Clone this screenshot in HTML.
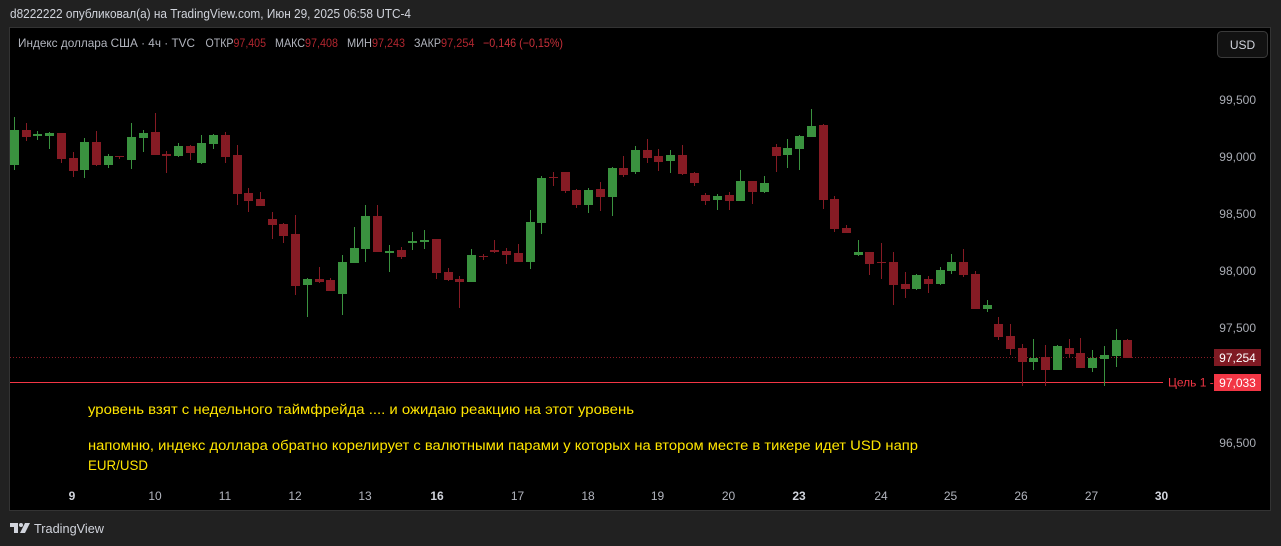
<!DOCTYPE html>
<html><head><meta charset="utf-8"><style>
html,body{margin:0;padding:0;background:#212121;}
body{width:1281px;height:546px;overflow:hidden;}
svg{display:block;font-family:"Liberation Sans","Noto Sans CJK SC",sans-serif;}
</style></head><body>
<svg width="1281" height="546" viewBox="0 0 1281 546" xmlns="http://www.w3.org/2000/svg">
<rect x="0" y="0" width="1281" height="546" fill="#212121"/>
<text x="10" y="18" font-size="12.5" fill="#d1d4dc" textLength="401" lengthAdjust="spacingAndGlyphs">d8222222 опубликовал(а) на TradingView.com, Июн 29, 2025 06:58 UTC-4</text>
<rect x="9.5" y="27.5" width="1261" height="483" fill="#000" stroke="#333" stroke-width="1"/>
<g font-size="12" fill="#b2b5be">
<text x="18" y="47" textLength="177" lengthAdjust="spacingAndGlyphs">Индекс доллара США · 4ч · TVC</text>
<text x="205.5" y="47" textLength="28" lengthAdjust="spacingAndGlyphs">ОТКР</text>
<text x="233.5" y="47" fill="#b0262f" textLength="32.5" lengthAdjust="spacingAndGlyphs">97,405</text>
<text x="275" y="47" textLength="30" lengthAdjust="spacingAndGlyphs">МАКС</text>
<text x="305" y="47" fill="#b0262f" textLength="33" lengthAdjust="spacingAndGlyphs">97,408</text>
<text x="347" y="47" textLength="25" lengthAdjust="spacingAndGlyphs">МИН</text>
<text x="372" y="47" fill="#b0262f" textLength="33" lengthAdjust="spacingAndGlyphs">97,243</text>
<text x="414" y="47" textLength="27" lengthAdjust="spacingAndGlyphs">ЗАКР</text>
<text x="441" y="47" fill="#b0262f" textLength="33.5" lengthAdjust="spacingAndGlyphs">97,254</text>
<text x="483" y="47" fill="#c9303a" textLength="80" lengthAdjust="spacingAndGlyphs">−0,146 (−0,15%)</text>
</g>
<rect x="1217.5" y="31.5" width="50" height="26" rx="4" fill="#121212" stroke="#3a3a3a"/>
<text x="1242.5" y="49" font-size="12" fill="#d1d4dc" text-anchor="middle">USD</text>
<g font-size="12" fill="#a9acb4" text-anchor="end">
<text x="1256" y="104">99,500</text>
<text x="1256" y="161">99,000</text>
<text x="1256" y="218">98,500</text>
<text x="1256" y="275">98,000</text>
<text x="1256" y="332">97,500</text>
<text x="1256" y="447">96,500</text>
</g>
<line x1="10" y1="357.5" x2="1214" y2="357.5" stroke="#8b1c26" stroke-width="1" stroke-dasharray="1,2"/>
<line x1="10" y1="382.5" x2="1163" y2="382.5" stroke="#f23645" stroke-width="1"/>
<text x="1168" y="386.5" font-size="12" fill="#f23645">Цель 1 -</text>
<rect x="1214" y="349" width="47" height="17" fill="#7f1a23"/>
<text x="1237.5" y="362" font-size="12" fill="#fff" text-anchor="middle">97,254</text>
<rect x="1214" y="374" width="47" height="17" fill="#f23645"/>
<text x="1237.5" y="387" font-size="12" fill="#fff" text-anchor="middle">97,033</text>

<g fill="#3a923f">
<rect x="14" y="117" width="1" height="53"/><rect x="10" y="130" width="9" height="35"/>
<rect x="37" y="131" width="1" height="9"/><rect x="33" y="134" width="9" height="2"/>
<rect x="49" y="132" width="1" height="17"/><rect x="45" y="133" width="9" height="3"/>
<rect x="84" y="138" width="1" height="40"/><rect x="80" y="142" width="9" height="28"/>
<rect x="108" y="154" width="1" height="14"/><rect x="104" y="156" width="9" height="9"/>
<rect x="131" y="123" width="1" height="46"/><rect x="127" y="137" width="9" height="23"/>
<rect x="143" y="130" width="1" height="22"/><rect x="139" y="133" width="9" height="5"/>
<rect x="178" y="143" width="1" height="14"/><rect x="174" y="146" width="9" height="10"/>
<rect x="201" y="135" width="1" height="29"/><rect x="197" y="143" width="9" height="20"/>
<rect x="213" y="134" width="1" height="15"/><rect x="209" y="135" width="9" height="9"/>
<rect x="307" y="278" width="1" height="39"/><rect x="303" y="279" width="9" height="6"/>
<rect x="342" y="255" width="1" height="60"/><rect x="338" y="262" width="9" height="32"/>
<rect x="354" y="227" width="1" height="36"/><rect x="350" y="248" width="9" height="15"/>
<rect x="365" y="205" width="1" height="57"/><rect x="361" y="216" width="9" height="33"/>
<rect x="389" y="245" width="1" height="27"/><rect x="385" y="251" width="9" height="2"/>
<rect x="412" y="232" width="1" height="18"/><rect x="408" y="241" width="9" height="2"/>
<rect x="424" y="230" width="1" height="19"/><rect x="420" y="240" width="9" height="2"/>
<rect x="471" y="249" width="1" height="33"/><rect x="467" y="255" width="9" height="27"/>
<rect x="530" y="210" width="1" height="59"/><rect x="526" y="222" width="9" height="40"/>
<rect x="541" y="176" width="1" height="58"/><rect x="537" y="178" width="9" height="45"/>
<rect x="588" y="188" width="1" height="25"/><rect x="584" y="190" width="9" height="15"/>
<rect x="612" y="167" width="1" height="49"/><rect x="608" y="168" width="9" height="29"/>
<rect x="635" y="146" width="1" height="28"/><rect x="631" y="150" width="9" height="22"/>
<rect x="670" y="150" width="1" height="23"/><rect x="666" y="155" width="9" height="6"/>
<rect x="717" y="194" width="1" height="16"/><rect x="713" y="196" width="9" height="4"/>
<rect x="740" y="170" width="1" height="31"/><rect x="736" y="181" width="9" height="20"/>
<rect x="764" y="176" width="1" height="17"/><rect x="760" y="183" width="9" height="9"/>
<rect x="787" y="139" width="1" height="29"/><rect x="783" y="148" width="9" height="7"/>
<rect x="799" y="135" width="1" height="35"/><rect x="795" y="136" width="9" height="13"/>
<rect x="811" y="109" width="1" height="28"/><rect x="807" y="126" width="9" height="11"/>
<rect x="858" y="240" width="1" height="16"/><rect x="854" y="252" width="9" height="3"/>
<rect x="916" y="274" width="1" height="16"/><rect x="912" y="275" width="9" height="14"/>
<rect x="940" y="267" width="1" height="18"/><rect x="936" y="270" width="9" height="14"/>
<rect x="951" y="254" width="1" height="20"/><rect x="947" y="262" width="9" height="9"/>
<rect x="987" y="300" width="1" height="12"/><rect x="983" y="305" width="9" height="4"/>
<rect x="1033" y="339" width="1" height="31"/><rect x="1029" y="358" width="9" height="4"/>
<rect x="1057" y="345" width="1" height="25"/><rect x="1053" y="346" width="9" height="24"/>
<rect x="1092" y="350" width="1" height="22"/><rect x="1088" y="358" width="9" height="10"/>
<rect x="1104" y="346" width="1" height="40"/><rect x="1100" y="355" width="9" height="4"/>
<rect x="1116" y="329" width="1" height="38"/><rect x="1112" y="340" width="9" height="16"/>
</g>
<g fill="#861b24">
<rect x="26" y="123" width="1" height="18"/><rect x="22" y="130" width="9" height="7"/>
<rect x="61" y="133" width="1" height="30"/><rect x="57" y="133" width="9" height="26"/>
<rect x="73" y="152" width="1" height="25"/><rect x="69" y="158" width="9" height="13"/>
<rect x="96" y="131" width="1" height="35"/><rect x="92" y="142" width="9" height="23"/>
<rect x="119" y="156" width="1" height="3"/><rect x="115" y="156" width="9" height="1"/>
<rect x="155" y="113" width="1" height="42"/><rect x="151" y="132" width="9" height="23"/>
<rect x="166" y="151" width="1" height="22"/><rect x="162" y="154" width="9" height="2"/>
<rect x="190" y="145" width="1" height="15"/><rect x="186" y="146" width="9" height="7"/>
<rect x="225" y="132" width="1" height="31"/><rect x="221" y="135" width="9" height="22"/>
<rect x="237" y="145" width="1" height="60"/><rect x="233" y="155" width="9" height="39"/>
<rect x="248" y="188" width="1" height="24"/><rect x="244" y="193" width="9" height="8"/>
<rect x="260" y="192" width="1" height="14"/><rect x="256" y="199" width="9" height="7"/>
<rect x="272" y="212" width="1" height="27"/><rect x="268" y="219" width="9" height="6"/>
<rect x="283" y="223" width="1" height="20"/><rect x="279" y="224" width="9" height="12"/>
<rect x="295" y="215" width="1" height="80"/><rect x="291" y="234" width="9" height="52"/>
<rect x="319" y="267" width="1" height="16"/><rect x="315" y="279" width="9" height="3"/>
<rect x="330" y="278" width="1" height="13"/><rect x="326" y="280" width="9" height="11"/>
<rect x="377" y="205" width="1" height="47"/><rect x="373" y="216" width="9" height="36"/>
<rect x="401" y="247" width="1" height="12"/><rect x="397" y="250" width="9" height="7"/>
<rect x="436" y="239" width="1" height="40"/><rect x="432" y="239" width="9" height="34"/>
<rect x="448" y="268" width="1" height="13"/><rect x="444" y="272" width="9" height="8"/>
<rect x="459" y="276" width="1" height="32"/><rect x="455" y="279" width="9" height="3"/>
<rect x="483" y="254" width="1" height="6"/><rect x="479" y="256" width="9" height="1"/>
<rect x="494" y="240" width="1" height="13"/><rect x="490" y="250" width="9" height="2"/>
<rect x="506" y="248" width="1" height="16"/><rect x="502" y="251" width="9" height="4"/>
<rect x="518" y="244" width="1" height="18"/><rect x="514" y="253" width="9" height="9"/>
<rect x="553" y="172" width="1" height="14"/><rect x="549" y="177" width="9" height="1"/>
<rect x="565" y="172" width="1" height="21"/><rect x="561" y="172" width="9" height="19"/>
<rect x="576" y="189" width="1" height="19"/><rect x="572" y="190" width="9" height="15"/>
<rect x="600" y="182" width="1" height="29"/><rect x="596" y="189" width="9" height="8"/>
<rect x="623" y="156" width="1" height="21"/><rect x="619" y="168" width="9" height="7"/>
<rect x="647" y="139" width="1" height="24"/><rect x="643" y="150" width="9" height="8"/>
<rect x="658" y="149" width="1" height="22"/><rect x="654" y="156" width="9" height="6"/>
<rect x="682" y="145" width="1" height="30"/><rect x="678" y="155" width="9" height="19"/>
<rect x="694" y="172" width="1" height="14"/><rect x="690" y="173" width="9" height="10"/>
<rect x="705" y="193" width="1" height="12"/><rect x="701" y="195" width="9" height="6"/>
<rect x="729" y="192" width="1" height="18"/><rect x="725" y="195" width="9" height="6"/>
<rect x="752" y="181" width="1" height="23"/><rect x="748" y="181" width="9" height="11"/>
<rect x="776" y="144" width="1" height="28"/><rect x="772" y="147" width="9" height="9"/>
<rect x="823" y="124" width="1" height="85"/><rect x="819" y="125" width="9" height="75"/>
<rect x="834" y="196" width="1" height="36"/><rect x="830" y="199" width="9" height="30"/>
<rect x="846" y="225" width="1" height="8"/><rect x="842" y="228" width="9" height="5"/>
<rect x="869" y="252" width="1" height="23"/><rect x="865" y="252" width="9" height="12"/>
<rect x="881" y="243" width="1" height="36"/><rect x="877" y="262" width="9" height="1"/>
<rect x="893" y="252" width="1" height="53"/><rect x="889" y="262" width="9" height="23"/>
<rect x="905" y="272" width="1" height="26"/><rect x="901" y="284" width="9" height="5"/>
<rect x="928" y="276" width="1" height="17"/><rect x="924" y="279" width="9" height="5"/>
<rect x="963" y="249" width="1" height="28"/><rect x="959" y="262" width="9" height="13"/>
<rect x="975" y="271" width="1" height="38"/><rect x="971" y="274" width="9" height="35"/>
<rect x="998" y="317" width="1" height="23"/><rect x="994" y="324" width="9" height="13"/>
<rect x="1010" y="324" width="1" height="31"/><rect x="1006" y="336" width="9" height="13"/>
<rect x="1022" y="344" width="1" height="42"/><rect x="1018" y="348" width="9" height="14"/>
<rect x="1045" y="345" width="1" height="41"/><rect x="1041" y="357" width="9" height="13"/>
<rect x="1069" y="339" width="1" height="19"/><rect x="1065" y="348" width="9" height="6"/>
<rect x="1080" y="338" width="1" height="30"/><rect x="1076" y="353" width="9" height="15"/>
<rect x="1127" y="339" width="1" height="19"/><rect x="1123" y="340" width="9" height="18"/>
</g>

<g font-size="13.5" fill="#ffe500">
<text x="88" y="414" textLength="546" lengthAdjust="spacingAndGlyphs">уровень взят с недельного таймфрейда .... и ожидаю реакцию на этот уровень</text>
<text x="88" y="450" textLength="830" lengthAdjust="spacingAndGlyphs">напомню, индекс доллара обратно корелирует с валютными парами у которых на втором месте в тикере идет USD напр</text>
<text x="88" y="470" textLength="60" lengthAdjust="spacingAndGlyphs">EUR/USD</text>
</g>
<g font-size="12" fill="#b2b5be" text-anchor="middle">
<text x="72" y="500" font-weight="bold" fill="#d1d4dc">9</text>
<text x="155" y="500">10</text>
<text x="225" y="500">11</text>
<text x="295" y="500">12</text>
<text x="365" y="500">13</text>
<text x="437" y="500" font-weight="bold" fill="#d1d4dc">16</text>
<text x="517.5" y="500">17</text>
<text x="588" y="500">18</text>
<text x="657.5" y="500">19</text>
<text x="728.5" y="500">20</text>
<text x="799" y="500" font-weight="bold" fill="#d1d4dc">23</text>
<text x="881" y="500">24</text>
<text x="950.5" y="500">25</text>
<text x="1021" y="500">26</text>
<text x="1091.5" y="500">27</text>
<text x="1161.5" y="500" font-weight="bold" fill="#d1d4dc">30</text>
</g>
<g fill="#d1d4dc">
<rect x="10" y="523" width="8" height="4"/>
<rect x="14" y="523" width="4" height="10"/>
<circle cx="21" cy="525" r="2"/>
<polygon points="25,523 30,523 25,533 20,533"/>
</g>
<text x="34" y="533" font-size="13" fill="#d1d4dc" textLength="70" lengthAdjust="spacingAndGlyphs">TradingView</text>
</svg>
</body></html>
